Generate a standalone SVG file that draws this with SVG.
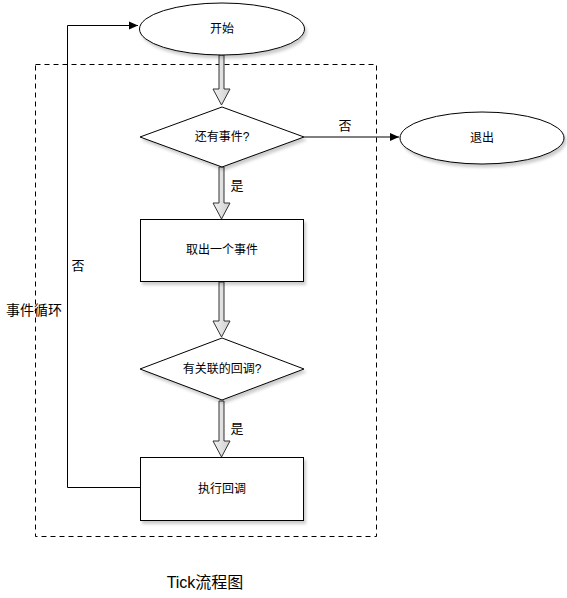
<svg xmlns="http://www.w3.org/2000/svg" width="567" height="598" viewBox="0 0 567 598">
<defs>
<style>
text{font-family:"Liberation Sans","Noto Sans CJK SC",sans-serif;fill:#000}
.node{fill:#fff;stroke:#000;stroke-width:1;filter:url(#sh)}
.lbl{font-size:12px;text-anchor:middle;dominant-baseline:central}
.blk{fill:url(#g);stroke:#333;stroke-width:1}
.line{fill:none;stroke:#000;stroke-width:1}
</style>
<linearGradient id="g" x1="0" y1="0" x2="1" y2="0">
<stop offset="0" stop-color="#f2f2f2"/><stop offset="1" stop-color="#cfcfcf"/>
</linearGradient>
<filter id="sh" x="-10%" y="-10%" width="130%" height="140%">
<feDropShadow dx="2" dy="3" stdDeviation="1.5" flood-color="#000" flood-opacity="0.2"/>
</filter>
<marker id="ar" markerWidth="10" markerHeight="10" refX="9" refY="5" orient="auto" markerUnits="userSpaceOnUse">
<path d="M0,1 L9,5 L0,9 Z" fill="#000"/>
</marker>
</defs>
<rect width="567" height="598" fill="#fff"/>
<rect id="loop-frame" x="35.5" y="64.5" width="341" height="472" fill="none" stroke="#000" stroke-dasharray="5,4"/>
<g id="connectors">
<path class="blk" d="M219,55 H224 V89 H230 L221.5,105 L213,89 H219 Z"/>
<path class="blk" d="M219,167 H224 V203 H230 L221.5,219 L213,203 H219 Z"/>
<path class="blk" d="M219,282 H224 V321 H230 L221.5,337 L213,321 H219 Z"/>
<path class="blk" d="M219,401 H224 V441 H230 L221.5,457 L213,441 H219 Z"/>
<path class="line" d="M304,137 H399" marker-end="url(#ar)"/>
<path class="line" d="M140,487.5 H67.5 V25.5 H138" marker-end="url(#ar)"/>
<text x="345" y="125" class="lbl" style="font-size:13px">否</text>
<text x="237" y="185" class="lbl" style="font-size:13px">是</text>
<text x="237" y="428" class="lbl" style="font-size:13px">是</text>
<text x="78" y="265" class="lbl" style="font-size:13px">否</text>
</g>
<g id="start"><ellipse class="node" cx="222" cy="29" rx="82.5" ry="26"/><text x="222" y="29" class="lbl">开始</text></g>
<g id="has-event"><path class="node" d="M222,107 L304,137 L222,167 L140,137 Z"/><text x="222" y="137" class="lbl">还有事件?</text></g>
<g id="exit"><ellipse class="node" cx="482" cy="138" rx="82" ry="26"/><text x="482" y="138" class="lbl">退出</text></g>
<g id="take-event"><rect class="node" x="140.5" y="219.5" width="163" height="62"/><text x="222" y="250" class="lbl">取出一个事件</text></g>
<g id="has-callback"><path class="node" d="M222,338 L304,369 L222,400 L140,369 Z"/><text x="222" y="369" class="lbl">有关联的回调?</text></g>
<g id="run-callback"><rect class="node" x="140.5" y="457.5" width="163" height="63"/><text x="222" y="489" class="lbl">执行回调</text></g>
<text x="34" y="310" class="lbl" style="font-size:14px">事件循环</text>
<text x="205" y="582" class="lbl" style="font-size:16px">Tick流程图</text>
</svg>
